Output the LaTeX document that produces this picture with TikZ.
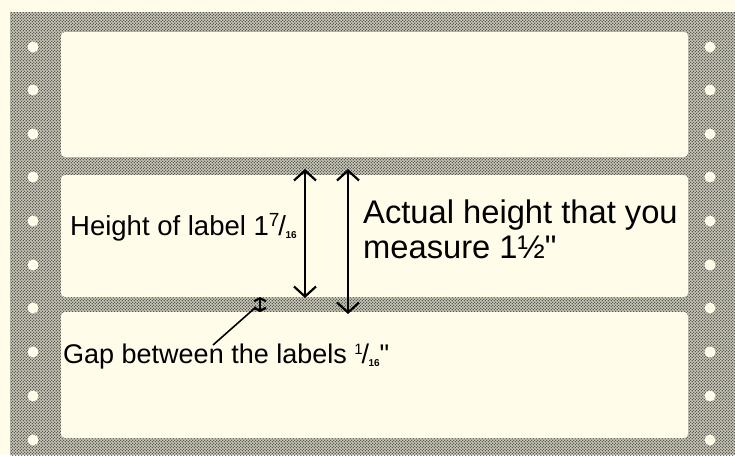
\documentclass[tikz,border=0pt]{standalone}
\usepackage{fontspec}
\setmainfont{Liberation Sans}[Ligatures=TeXOff]
\usetikzlibrary{arrows.meta,patterns}
\definecolor{paper}{HTML}{FFFDEA}
\definecolor{stip}{HTML}{CBC9B9}
\pgfdeclarepatternformonly{halftone}{\pgfqpoint{0pt}{0pt}}{\pgfqpoint{3.4pt}{3.4pt}}{\pgfqpoint{3.4pt}{3.4pt}}{%
  \pgfpathcircle{\pgfqpoint{0.85pt}{0.85pt}}{0.8pt}%
  \pgfpathcircle{\pgfqpoint{2.55pt}{2.55pt}}{0.8pt}%
  \pgfusepath{fill}}
\newcommand{\myfr}[4]{\raisebox{0.3em}{\fontsize{#3}{#3}\selectfont #1}\kern-0.04em/\kern-0.02em\raisebox{-0.12em}{\fontsize{#4}{#4}\selectfont\bfseries #2}}
\tikzset{
  labelbox/.style={fill=paper,rounded corners=4pt},
  hole/.style={fill=paper,draw=none},
  txt/.style={inner sep=0pt,anchor=base west,text=black},
  dim/.style={line width=2.2pt,{Straight Barb[length=10pt,width=22pt,line width=2.2pt]}-{Straight Barb[length=10pt,width=22pt,line width=2.2pt]}},
  tinydim/.style={line width=2.2pt,{Straight Barb[length=3pt,width=12pt,line width=2.2pt]}-{Straight Barb[length=3pt,width=12pt,line width=2.2pt]}},
}
\begin{document}
\begin{tikzpicture}[x=1pt,y=-1pt]
\useasboundingbox (0,0) rectangle (735,455);
\fill[paper] (0,0) rectangle (735,455);
% perforated stipple backing
\fill[stip] (10,12) rectangle (735,455);
\fill[pattern=halftone,pattern color=black!80] (10,12) rectangle (735,455);
% holes
\foreach \y in {47,90,134,177,221,265,308,352,396,440}{
  \fill[hole] (33,\y) circle (5.5);
  \fill[hole] (710,\y) circle (5.5);
}
% labels
\fill[labelbox] (61,32) rectangle (688,157);
\fill[labelbox] (61,175) rectangle (688,297);
\fill[labelbox] (61,312) rectangle (688,438);
% texts
\node[txt,font=\fontsize{27.5}{27.5}\selectfont] (hl) at (70,235) {Height of label 1\myfr{7}{16}{19}{10}};
\node[txt,font=\fontsize{32.7}{32.7}\selectfont] (ah) at (363,223) {Actual height that you};
\node[txt,font=\fontsize{32.7}{32.7}\selectfont] (ms) at (363,258) {measure 1½"};
\node[txt,font=\fontsize{27}{27}\selectfont] (gap) at (63,363) {Gap between the labels \myfr{1}{16}{15}{10}"};
% dimension arrows
\coordinate (a1t) at (305,169);
\coordinate (a1b) at (305,298);
\coordinate (a2t) at (348,169);
\coordinate (a2b) at (348,314);
\draw[dim] (a1t) -- (a1b);
\draw[dim] (a2t) -- (a2b);
% gap marker
\coordinate (gt) at (260,297);
\coordinate (gb) at (260,312);
\draw[tinydim] (gt) -- (gb);
\coordinate (lead) at (256,307);
\coordinate (leadend) at (213,345);
\draw[line width=1.6pt] (lead) -- (leadend);
\end{tikzpicture}
\end{document}
